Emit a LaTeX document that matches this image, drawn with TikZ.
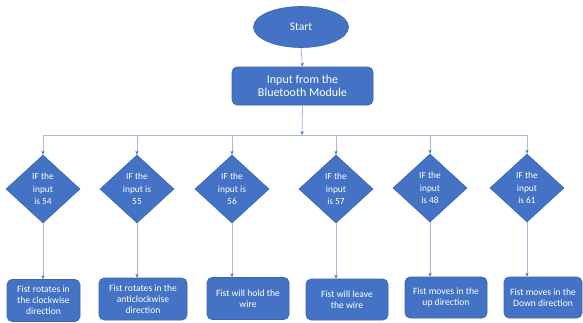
\documentclass[tikz,border=0pt]{standalone}
\usepackage{fontspec}
\setmainfont{Carlito}
\usetikzlibrary{shapes.geometric,arrows.meta}
\definecolor{boxblue}{HTML}{4472C4}
\definecolor{edgeblue}{HTML}{3A64B0}
\definecolor{linegray}{HTML}{A9B8D4}
\definecolor{tipblue}{HTML}{4F72B8}
\tikzset{
  flowbox/.style={draw=edgeblue, fill=boxblue, rounded corners=5pt, text=white,
    font=\fontsize{9.6}{11}\selectfont, align=center, inner sep=1pt, line width=0.6pt},
  decision/.style={diamond, draw=edgeblue, fill=boxblue, text=white,
    font=\fontsize{9.4}{12.5}\selectfont, align=center, inner sep=0pt,
    minimum width=74pt, minimum height=68pt, line width=0.6pt},
  startnode/.style={ellipse, draw=edgeblue, fill=boxblue, text=white,
    font=\fontsize{11.5}{13}\selectfont, minimum width=95pt, minimum height=41pt, inner sep=0pt, line width=0.6pt},
  conn/.style={draw=linegray, line width=0.8pt},
  arr/.style={conn, -{Stealth[length=4pt,width=3.4pt,color=tipblue,fill=tipblue]}}
}
\begin{document}
\begin{tikzpicture}[x=1pt,y=-1pt]
\useasboundingbox (0,0) rectangle (583,322);
\node[startnode] (start) at (301,27) {Start};
\node[flowbox, font=\fontsize{12}{13.5}\selectfont, minimum width=141pt, minimum height=38pt] (inp) at (302.5,86) {Input from the\\Bluetooth Module};
\foreach \i/\x in {1/43,2/137,3/232,4/336,5/430,6/527} {
  \coordinate (b\i) at (\x,135);
}
\coordinate (bm) at (302,135);
\node[decision] (d1) at (43,189) {IF the\\input\\is 54};
\node[decision] (d2) at (137,189) {IF the\\input is\\55};
\node[decision] (d3) at (232,189) {IF the\\input is\\56};
\node[decision] (d4) at (336,189) {IF the\\input\\is 57};
\node[decision] (d5) at (430,188) {IF the\\input\\is 48};
\node[decision] (d6) at (527,188) {IF the\\input\\is 61};
\node[flowbox, minimum width=73pt, minimum height=42pt] (f1) at (43.5,300.5) {Fist rotates in\\the clockwise\\direction};
\node[flowbox, minimum width=88pt, minimum height=42pt] (f2) at (143,299) {Fist rotates in the\\anticlockwise\\direction};
\node[flowbox, minimum width=82pt, minimum height=42pt] (f3) at (248,298.5) {Fist will hold the\\wire};
\node[flowbox, minimum width=82pt, minimum height=41pt] (f4) at (347,299.5) {Fist will leave\\the wire};
\node[flowbox, minimum width=82pt, minimum height=41pt] (f5) at (446,297.5) {Fist moves in the\\up direction};
\node[flowbox, minimum width=78pt, minimum height=41pt] (f6) at (543,297.5) {Fist moves in the\\Down direction};
\draw[arr] (start.south) -- (inp.north);
\draw[arr] (inp.south) -- (bm);
\draw[conn] (b1) -- (b6);
\foreach \i in {1,...,6} {
  \draw[arr] (b\i) -- (d\i.north);
  \draw[arr] (d\i.south) -- (d\i.south |- f\i.north);
}
\end{tikzpicture}
\end{document}
